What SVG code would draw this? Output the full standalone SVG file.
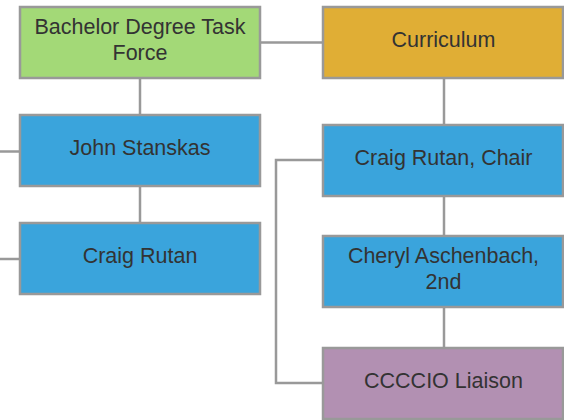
<svg xmlns="http://www.w3.org/2000/svg" width="564" height="420" viewBox="0 0 564 420">
<style>
.box{stroke:#999;stroke-width:2.5}
.t{font-family:"Liberation Sans",Arial,sans-serif;font-size:21.5px;fill:#333;text-anchor:middle}
.c{fill:none;stroke:#999;stroke-width:2.5}
</style>
<rect width="564" height="420" fill="#fff"/>
<g id="connectors">
<path class="c" d="M260,42.5H323"/>
<path class="c" d="M140,79V115"/>
<path class="c" d="M140,187V223"/>
<path class="c" d="M0,151.5H20"/>
<path class="c" d="M0,259H20"/>
<path class="c" d="M444,79V125"/>
<path class="c" d="M444,196V236"/>
<path class="c" d="M444,308V348"/>
<path class="c" d="M323,160H276V383H323"/>
</g>
<g id="bachelor">
<rect class="box" x="20" y="7" width="240" height="71" fill="#a3d977"/>
<text class="t" x="140" y="34">Bachelor Degree Task</text>
<text class="t" x="140" y="60">Force</text>
</g>
<g id="john">
<rect class="box" x="20" y="115" width="240" height="71" fill="#3aa4dc"/>
<text class="t" x="140" y="155">John Stanskas</text>
</g>
<g id="craig">
<rect class="box" x="20" y="223" width="240" height="71" fill="#3aa4dc"/>
<text class="t" x="140" y="263">Craig Rutan</text>
</g>
<g id="curriculum">
<rect class="box" x="323" y="7" width="240" height="71" fill="#e0ae35"/>
<text class="t" x="443.5" y="47">Curriculum</text>
</g>
<g id="chair">
<rect class="box" x="323" y="125" width="240" height="71" fill="#3aa4dc"/>
<text class="t" x="443.5" y="165">Craig Rutan, Chair</text>
</g>
<g id="cheryl">
<rect class="box" x="323" y="236" width="240" height="71" fill="#3aa4dc"/>
<text class="t" x="443.5" y="263">Cheryl Aschenbach,</text>
<text class="t" x="443.5" y="289">2nd</text>
</g>
<g id="ccccio">
<rect class="box" x="323" y="348" width="240" height="71" fill="#b290b2"/>
<text class="t" x="443.5" y="388">CCCCIO Liaison</text>
</g>
</svg>
